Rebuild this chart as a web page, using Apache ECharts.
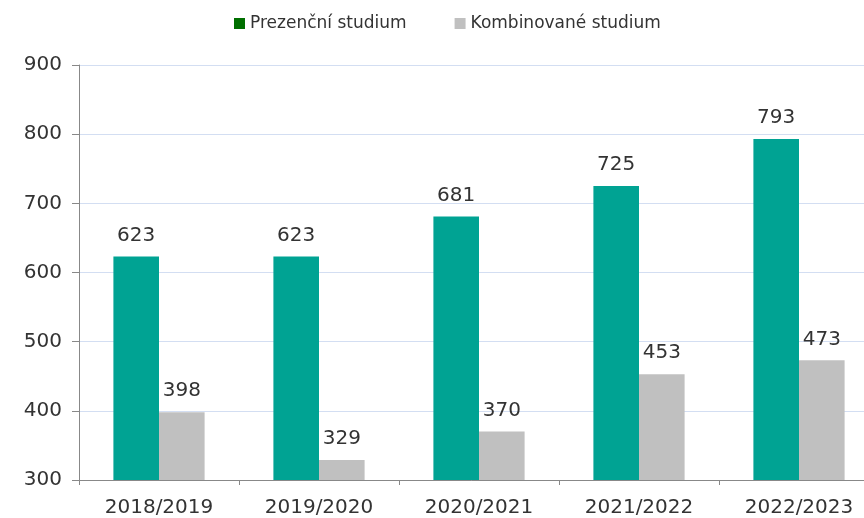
<!DOCTYPE html>
<html><head><meta charset="utf-8">
<script src="https://cdn.jsdelivr.net/npm/echarts@6/dist/echarts.min.js"></script>
<style>html,body{margin:0;padding:0;background:#fff}#c{width:864px;height:518px}</style>
</head><body><div id="c"></div>
<script>
const categories = ["2018/2019","2019/2020","2020/2021","2021/2022","2022/2023"];
const prezencni = [623,623,681,725,793];
const kombinovane = [398,329,370,453,473];
const seriesNames = ["Prezenční studium","Kombinované studium"];
const yMin = 300, yMax = 900, yStep = 100;

const font = "DejaVu Sans, Verdana, sans-serif";
const chart = echarts.init(document.getElementById('c'));
chart.setOption({
  animation:false,
  legend:{
    left:229, top:10, itemWidth:11, itemHeight:11, itemGap:48,
    icon:'rect',
    textStyle:{fontFamily:font,fontSize:17,color:'#333'},
    data:[{name:seriesNames[0],itemStyle:{color:'#006f00'}},{name:seriesNames[1],itemStyle:{color:'#c0c0c0'}}]
  },
  grid:{left:79, width:800, top:65, bottom:38, outerBoundsMode:'none', containLabel:false},
  xAxis:{type:'category',data:categories,
    axisLine:{lineStyle:{color:'#888'}},
    axisTick:{show:true,alignWithLabel:false,length:5,lineStyle:{color:'#888'}},
    axisLabel:{fontFamily:font,fontSize:20,color:'#333',margin:18}},
  yAxis:{type:'value',min:yMin,max:yMax,interval:yStep,
    axisLine:{show:true,lineStyle:{color:'#888'}},
    axisTick:{show:true,length:7,lineStyle:{color:'#888'}},
    splitLine:{lineStyle:{color:'#d3def2'}},
    axisLabel:{fontFamily:font,fontSize:20,color:'#333',margin:17}},
  series:[
    {name:seriesNames[0],type:'bar',data:prezencni,barGap:'0%',barCategoryGap:'43%',
     itemStyle:{color:'#00a393'},
     label:{show:true,position:'top',distance:11,fontFamily:font,fontSize:20,color:'#333'}},
    {name:seriesNames[1],type:'bar',data:kombinovane,
     itemStyle:{color:'#c0c0c0'},
     label:{show:true,position:'top',distance:11,fontFamily:font,fontSize:20,color:'#333'}}
  ]
});
</script></body></html>
